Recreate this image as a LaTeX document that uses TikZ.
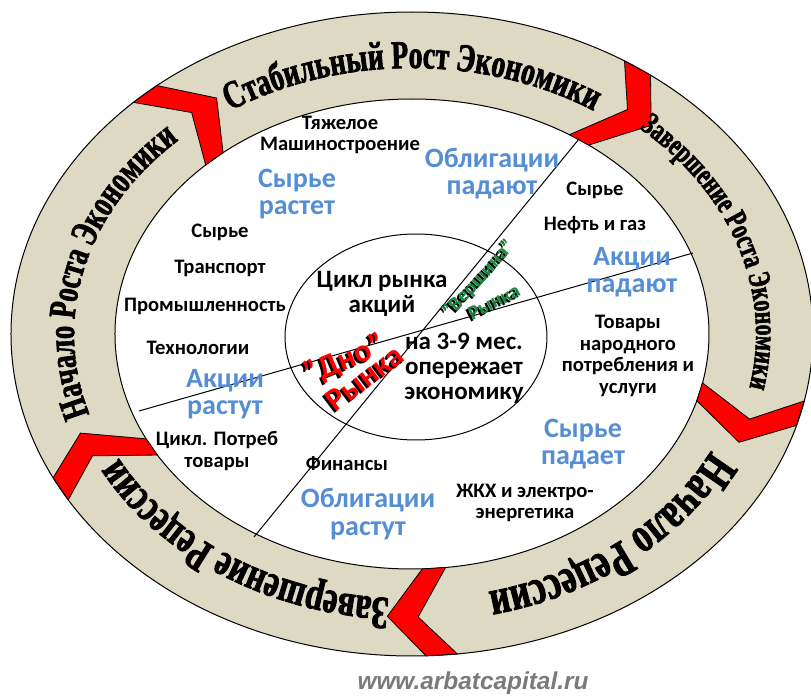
\documentclass[tikz,border=0pt]{standalone}
\usepackage{fontspec}
\setmainfont{Carlito}
\newfontfamily\ringfont{Liberation Serif}[FakeStretch=0.7,FakeBold=1.8]
\newfontfamily\markfont{Liberation Sans}
\usetikzlibrary{decorations.text}
\definecolor{ringbeige}{RGB}{221,217,195}
\definecolor{lblblue}{RGB}{85,142,213}
\definecolor{topgreen}{RGB}{22,140,62}
\newcommand{\ringfmt}[1]{\ringfont\bfseries\fontsize{#1}{#1}\selectfont}

\begin{document}
\begin{tikzpicture}[x=0.5pt,y=0.5pt,
		lbl/.style={font=\bfseries\fontsize{10.3}{10.8}\selectfont,align=center,inner sep=0pt},
		blu/.style={font=\bfseries\fontsize{14}{13.6}\selectfont,text=lblblue,align=center,inner sep=0pt},
		mid/.style={font=\bfseries\fontsize{12.5}{12.5}\selectfont,align=center,inner sep=0pt},
		tipG/.style={font=\bfseries\fontsize{10}{10}\selectfont,text=topgreen,inner sep=0pt},
		tipR/.style={font=\bfseries\fontsize{16}{16}\selectfont,text=red,inner sep=0pt},
		ringtxt/.style={decorate,decoration={text along path,text align=center,text={#1}}}]
				\useasboundingbox (-412,-363) rectangle (399,334);
				\fill [ringbeige](0,0) ellipse [x radius=401, y radius=322];
				\draw [line width=0.5pt](0,0) ellipse [x radius=401, y radius=322];
				\filldraw [fill=white, line width=0.5pt](0,0) ellipse [x radius=297, y radius=235];
				\foreach \t in {134,58,-12,-83.5,-149}
					\filldraw [fill=red, line width=0.4pt](\t:401 and 322) -- ({\t-4.5}:401 and 322) -- ({\t-10.5}:354 and 283) -- ({\t-4.5}:297 and 235) -- (\t:297 and 235) -- ({\t-5.5}:354 and 283) -- cycle;
				\path [ringtxt={|\ringfmt{19.8}|Стабильный Рост Экономики}](130:334 and 266) arc [start angle=130, end angle=50, x radius=334, y radius=266];
				\path [ringtxt={|\ringfmt{15.6}|Завершение Роста Экономики}](58:344 and 274) arc [start angle=58, end angle=-22, x radius=344, y radius=274];
				\path [ringtxt={|\ringfmt{25}|Начало Рецессии}](-10:333 and 265) arc [start angle=-10, end angle=-90, x radius=333, y radius=265];
				\path [ringtxt={|\ringfmt{23}|Завершение Рецессии}](276:332 and 265) arc [start angle=276, end angle=196, x radius=332, y radius=265];
				\path [ringtxt={|\ringfmt{19}|Начало Роста Экономики}](206:338 and 268) arc [start angle=206, end angle=126, x radius=338, y radius=268];
				\draw [line width=0.5pt](4,-3) ellipse [x radius=131, y radius=103];
				\coordinate (peakEnd) at (167,195);
				\coordinate (bottomEnd) at (-158,-203);
				\coordinate (growEnd) at (-273,-77);
				\coordinate (fallEnd) at (281,81);
				\draw [line width=0.5pt](peakEnd) -- (bottomEnd);
				\draw [line width=0.5pt](growEnd) -- (fallEnd);
				\node [lbl] (heavy) at (-72,199){Тяжелое\\Машиностроение};
				\node [blu] (rawUp) at (-115,140){Сырье\\растет};
				\node [blu] (bondDown) at (80,160){Облигации\\падают};
				\node [lbl] (rawR) at (183,144){Сырье};
				\node [lbl] (oil) at (183,109){Нефть и газ};
				\node [blu] (stockDown) at (220,62){Акции\\падают};
				\node [lbl] (rawL) at (-192,102){Сырье};
				\node [lbl] (transp) at (-192,66){Транспорт};
				\node [lbl] (indust) at (-207,28){Промышленность};
				\node [lbl] (tech) at (-214,-14){Технологии};
				\node [blu] (stockUp) at (-187,-60){Акции\\растут};
				\node [lbl] (cyclic) at (-195,-117){Цикл. Потреб\\товары};
				\node [lbl] (fin) at (-65,-130){Финансы};
				\node [blu] (bondUp) at (-44,-180){Облигации\\растут};
				\node [lbl] (util) at (113,-169){ЖКХ и электро-\\энергетика};
				\node [blu] (rawDown) at (171,-110){Сырье\\падает};
				\node [lbl] (consumer) at (216,-22){Товары\\народного\\потребления и\\услуги};
				\node [mid] (cycle) at (-30,40){Цикл рынка\\акций};
				\node [mid] (lead) at (52,-34){на 3-9 мес.\\опережает\\экономику};
				\node [tipG, text=black, rotate=48] (peakS) at (65,53){"Вершина"};
				\node [tipG, rotate=48] (peak) at (67,55){"Вершина"};
				\node [tipG, text=black, rotate=27] (peakMktS) at (80,30){Рынка};
				\node [tipG, rotate=27] (peakMkt) at (82,32){Рынка};
				\node [tipR, text=black, rotate=23] (bottomS) at (-69,-28){"Дно"};
				\node [tipR, rotate=23] (bottom) at (-67,-26){"Дно"};
				\node [tipR, text=black, rotate=37] (bottomMktS) at (-49,-46){Рынка};
				\node [tipR, rotate=37] (bottomMkt) at (-47,-44){Рынка};
				\node [font=\markfont\bfseries\itshape\fontsize{12.2}{12.2}\selectfont, text=black!52] (site) at (61,-349){www.arbatcapital.ru};
			\end{tikzpicture}
\end{document}
